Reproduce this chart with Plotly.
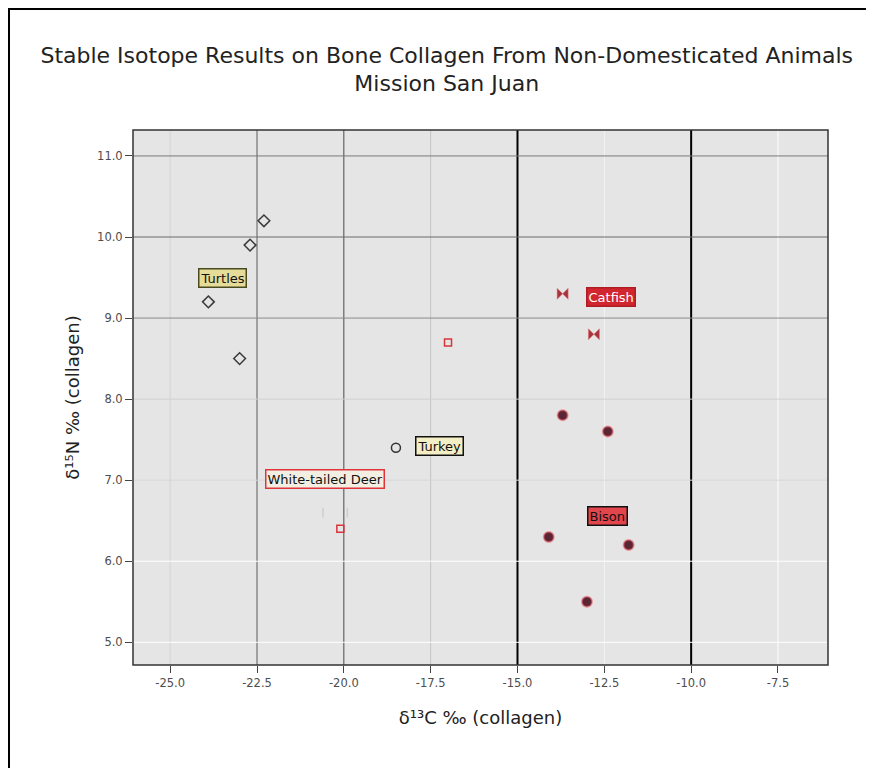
import plotly.graph_objects as go

# ---- data ----
turtle_x = [-22.3, -22.7, -23.9, -23.0]
turtle_y = [10.2, 9.9, 9.2, 8.5]

catfish_x = [-13.7, -12.8]
catfish_y = [9.3, 8.8]

bison_x = [-13.7, -12.4, -14.1, -11.8, -13.0]
bison_y = [7.8, 7.6, 6.3, 6.2, 5.5]

turkey_x = [-18.5]
turkey_y = [7.4]

deer_x = [-17.0, -20.1]
deer_y = [8.7, 6.4]
deer_faint_x = [-20.6, -19.9]
deer_faint_y = [6.6, 6.6]

labels = ["Turtles", "Catfish", "Bison", "Turkey", "White-tailed Deer"]
label_x = [-23.5, -12.3, -12.4, -17.25, -20.55]
label_y = [9.5, 9.26, 6.56, 7.42, 7.02]

x_ticks = [-25.0, -22.5, -20.0, -17.5, -15.0, -12.5, -10.0, -7.5]
x_tick_text = ["-25.0", "-22.5", "-20.0", "-17.5", "-15.0", "-12.5", "-10.0", "-7.5"]
y_ticks = [5.0, 6.0, 7.0, 8.0, 9.0, 10.0, 11.0]
y_tick_text = ["5.0", "6.0", "7.0", "8.0", "9.0", "10.0", "11.0"]

x_grid_colors = ["#d4d4d4", "#5a5a5a", "#4a4a4a", "#c4c4c4", "#000000", "#f4f4f4", "#000000", "#ffffff"]
x_grid_widths = [1, 1, 1, 1, 2, 1, 2, 1]
y_grid_colors = ["#ffffff", "#ffffff", "#d8d8d8", "#d0d0d0", "#8a8a8a", "#6a6a6a", "#7a7a7a"]

FONT = "DejaVu Sans, Liberation Sans, Arial, sans-serif"

L, R, T, B = 125, 54, 122, 111
W, H = 874, 768
PW, PH = W - L - R, H - T - B

fig = go.Figure()

fig.add_trace(go.Scatter(x=deer_faint_x, y=deer_faint_y, mode="markers",
                         marker=dict(symbol="line-ns-open", size=7, color="#cdcdcd",
                                     line=dict(color="#cdcdcd", width=1.5)),
                         showlegend=False))
fig.add_trace(go.Scatter(x=turtle_x, y=turtle_y, mode="markers",
                         marker=dict(symbol="diamond-open", size=9, color="#3a3a3a",
                                     line=dict(width=1.5)),
                         showlegend=False))
fig.add_trace(go.Scatter(x=catfish_x, y=catfish_y, mode="markers",
                         marker=dict(symbol="bowtie", size=11, color="#a8323e",
                                     line=dict(color="rgba(230,120,120,0.5)", width=1)),
                         showlegend=False))
fig.add_trace(go.Scatter(x=bison_x, y=bison_y, mode="markers",
                         marker=dict(symbol="circle", size=10, color="#5a2535",
                                     line=dict(color="rgba(230,90,100,0.55)", width=2)),
                         showlegend=False))
fig.add_trace(go.Scatter(x=turkey_x, y=turkey_y, mode="markers",
                         marker=dict(symbol="circle-open", size=9, color="#333333",
                                     line=dict(width=1.5)),
                         showlegend=False))
fig.add_trace(go.Scatter(x=deer_x, y=deer_y, mode="markers",
                         marker=dict(symbol="square-open", size=7, color="#d8343a",
                                     line=dict(width=1.5)),
                         showlegend=False))

styles = {
    "Turtles": dict(bgcolor="#e6dc9a", bordercolor="#4a4a20", font_color="#111111"),
    "Catfish": dict(bgcolor="#d2262e", bordercolor="#b01c24", font_color="#ffffff"),
    "Bison": dict(bgcolor="#e2464c", bordercolor="#111111", font_color="#111111"),
    "Turkey": dict(bgcolor="#f4eec4", bordercolor="#111111", font_color="#111111"),
    "White-tailed Deer": dict(bgcolor="#f2eee2", bordercolor="#e0343a", font_color="#111111"),
}
for t, lx, ly in zip(labels, label_x, label_y):
    s = styles[t]
    fig.add_annotation(x=lx, y=ly, text=t, showarrow=False,
                       font=dict(family=FONT, size=13, color=s["font_color"]),
                       bgcolor=s["bgcolor"], bordercolor=s["bordercolor"],
                       borderwidth=1.5, borderpad=1)

shapes = []
for v, c, w in zip(x_ticks, x_grid_colors, x_grid_widths):
    shapes.append(dict(type="line", xref="x", yref="paper", x0=v, x1=v, y0=0, y1=1,
                       line=dict(color=c, width=w), layer="below"))
for v, c in zip(y_ticks, y_grid_colors):
    shapes.append(dict(type="line", xref="paper", yref="y", x0=0, x1=1, y0=v, y1=v,
                       line=dict(color=c, width=1), layer="below"))
# panel border
shapes.append(dict(type="rect", xref="paper", yref="paper", x0=0, x1=1, y0=0, y1=1,
                   line=dict(color="#333333", width=1.5), layer="above"))
# outer frame on the figure edge
shapes.append(dict(type="rect", xref="paper", yref="paper",
                   x0=(-L + 1) / PW, x1=(W - L + 20) / PW,
                   y0=-(B + 20) / PH, y1=1 + (T - 1) / PH,
                   line=dict(color="#000000", width=2), layer="above"))
fig.update_layout(shapes=shapes)

fig.update_layout(
    width=W, height=H,
    margin=dict(l=L, r=R, t=T, b=B),
    paper_bgcolor="white", plot_bgcolor="#e5e5e5",
    title=dict(text="Stable Isotope Results on Bone Collagen From Non-Domesticated Animals<br>Mission San Juan",
               x=0.502, xanchor="center", y=0.929, yanchor="top",
               font=dict(family=FONT, size=22, color="#222222")),
    font=dict(family=FONT),
)
fig.update_xaxes(range=[-26.07, -6.06], tickvals=x_ticks, ticktext=x_tick_text,
                 showgrid=False, zeroline=False, ticks="outside", ticklen=7,
                 tickcolor="#444444", tickfont=dict(size=11.5, color="#4d4d4d"),
                 title=dict(text="δ¹³C ‰ (collagen)", font=dict(size=18, color="#222222"),
                            standoff=22))
fig.update_yaxes(range=[4.72, 11.32], tickvals=y_ticks, ticktext=y_tick_text,
                 showgrid=False, zeroline=False, ticks="outside", ticklen=7,
                 tickcolor="#444444", tickfont=dict(size=11.5, color="#4d4d4d"),
                 title=dict(text="δ¹⁵N ‰ (collagen)", font=dict(size=18, color="#222222"),
                            standoff=12))

fig.write_html("out.html")
